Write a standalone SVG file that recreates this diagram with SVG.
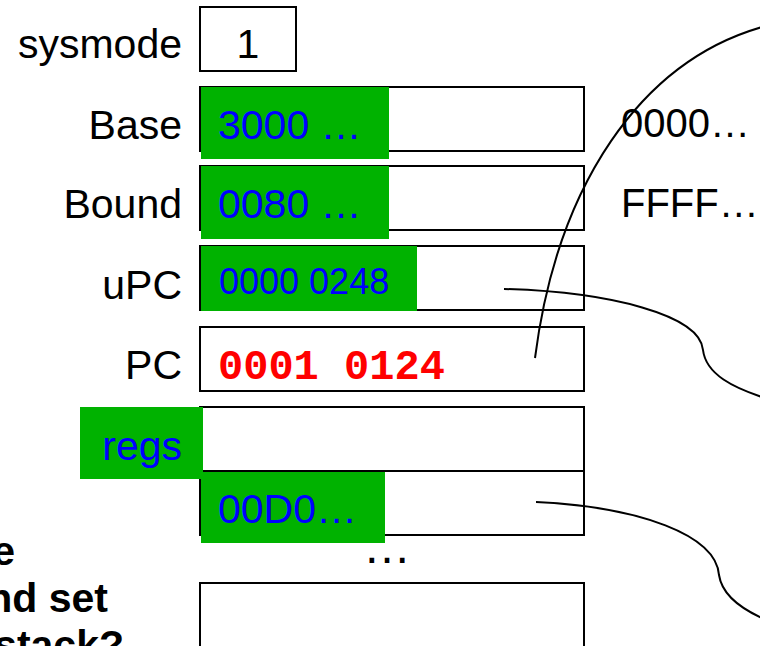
<svg xmlns="http://www.w3.org/2000/svg" width="760" height="646" viewBox="0 0 760 646">
<style>
.box{fill:#fff;stroke:#000;stroke-width:2}
.hl{fill:#00b200}
.lbl{font-family:"Liberation Sans",Arial,sans-serif;font-size:41px;fill:#000;text-anchor:end}
.val{font-family:"Liberation Sans",Arial,sans-serif;font-size:41px;fill:#0000ff}
.mem{font-family:"Liberation Sans",Arial,sans-serif;font-size:40px;fill:#000}
.pc{font-family:"Liberation Mono","Courier New",monospace;font-weight:bold;font-size:42px;fill:#ff0000}
.q{font-family:"Liberation Sans",Arial,sans-serif;font-weight:bold;font-size:41px;fill:#000;text-anchor:end}
.conn{fill:none;stroke:#000;stroke-width:2}
</style>
<rect width="760" height="646" fill="#fff"/>
<g id="sysmode">
<text class="lbl" x="182" y="58">sysmode</text>
<rect class="box" x="200" y="7" width="96" height="64"/>
<text class="lbl" x="248" y="58" style="text-anchor:middle">1</text>
</g>
<g id="base">
<text class="lbl" x="182" y="139">Base</text>
<rect class="box" x="200" y="87" width="384" height="64"/>
<rect class="hl" x="201" y="87" width="188" height="72"/>
<text class="val" x="218" y="139">3000 …</text>
<text class="mem" x="621" y="137">0000…</text>
</g>
<g id="bound">
<text class="lbl" x="182" y="218">Bound</text>
<rect class="box" x="200" y="166" width="384" height="64"/>
<rect class="hl" x="201" y="166" width="188" height="73"/>
<text class="val" x="218" y="218">0080 …</text>
<text class="mem" x="621" y="217">FFFF…</text>
</g>
<g id="upc">
<text class="lbl" x="182" y="299">uPC</text>
<rect class="box" x="200" y="246" width="384" height="64"/>
<rect class="hl" x="201" y="246" width="216" height="65"/>
<text class="val" x="219" y="294" style="font-size:36px">0000 0248</text>
</g>
<g id="pc">
<text class="lbl" x="182" y="379">PC</text>
<rect class="box" x="200" y="327" width="384" height="64"/>
<text class="pc" x="218" y="379">0001 0124</text>
</g>
<g id="regs">
<rect class="box" x="200" y="407" width="384" height="64"/>
<rect class="box" x="200" y="471" width="384" height="64"/>
<rect class="hl" x="80" y="407" width="123" height="72"/>
<text class="val" x="182" y="460" style="text-anchor:end">regs</text>
<rect class="hl" x="201" y="472" width="184" height="71"/>
<text class="val" x="218" y="523">00D0…</text>
<text class="lbl" x="387" y="563" style="text-anchor:middle;font-size:48px">…</text>
<rect class="box" x="200" y="583" width="384" height="70"/>
</g>
<g id="question">
<text class="q" x="15" y="565">e</text>
<text class="q" x="108" y="612">nd set</text>
<text class="q" x="124" y="659">stack?</text>
</g>
<g id="connectors">
<path class="conn" d="M535,358 C557,186 640,62 762,27"/>
<path class="conn" d="M504,289 C610,292 700,315 703,350 C706,375 735,388 762,397"/>
<path class="conn" d="M536,502 C640,507 716,535 719,575 C722,595 740,608 762,618"/>
</g>
</svg>
